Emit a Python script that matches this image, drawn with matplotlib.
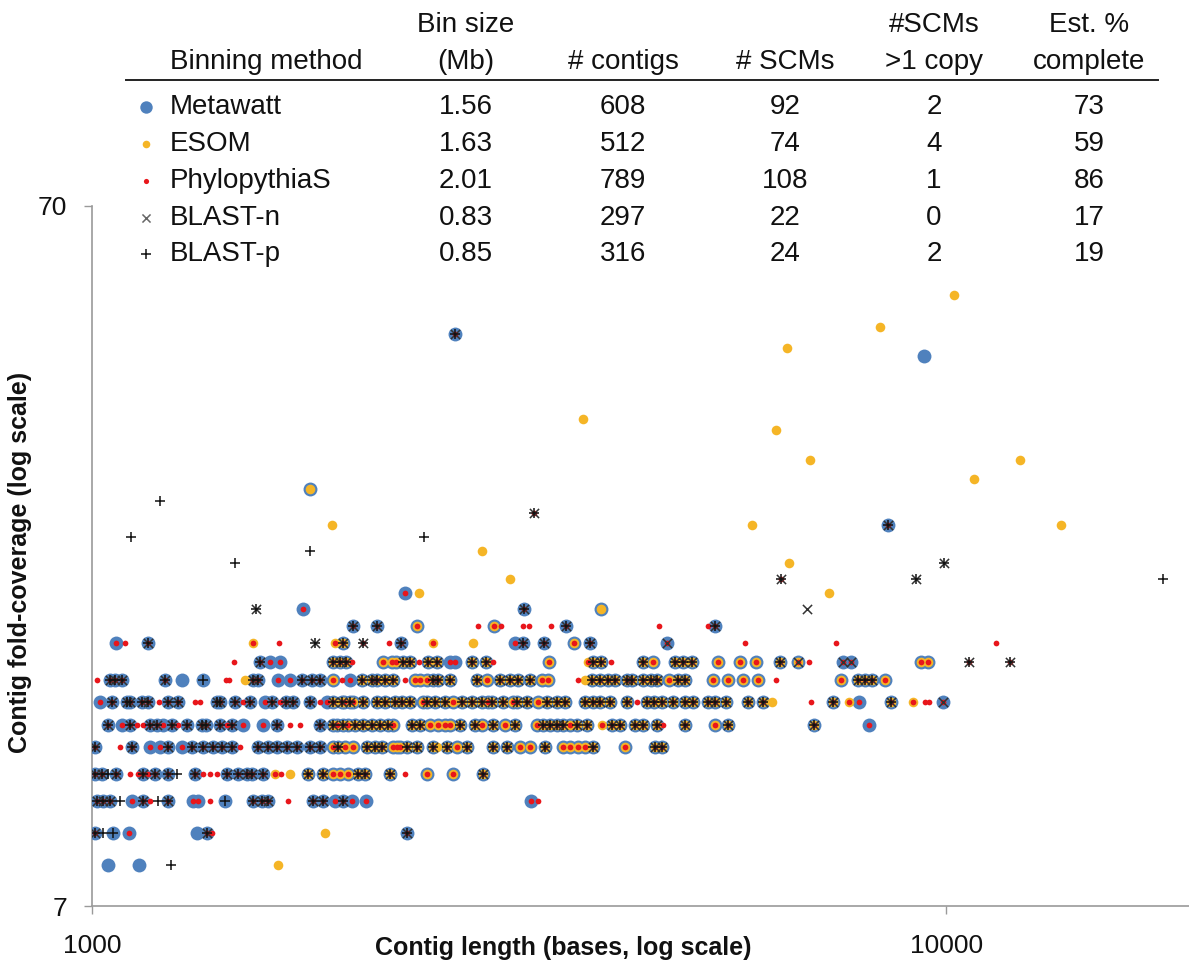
import matplotlib
matplotlib.use("Agg")
import matplotlib.pyplot as plt

plt.rcParams['font.family'] = ['Liberation Sans', 'DejaVu Sans']

# ---------------- summary table ----------------
methods = ["Metawatt", "ESOM", "PhylopythiaS", "BLAST-n", "BLAST-p"]
method_codes = ["M", "E", "P", "N", "B"]
bin_size_mb = ["1.56", "1.63", "2.01", "0.83", "0.85"]
n_contigs = [608, 512, 789, 297, 316]
n_scms = [92, 74, 108, 22, 24]
scms_multi = [2, 4, 1, 0, 2]
est_complete = [73, 59, 86, 17, 19]

# bin membership shorthand: A = all five methods, K = all except ESOM
alias = {"A": "MEPNB", "K": "MPNB"}

# ---------------- contigs, one list per coverage row ----------------
r080_len = [1044, 1135, 1237, 1651]
r080_bin = ["M", "M", "B", "E"]

r089_len = [1008, 1030, 1058, 1105, 1328, 1364, 1382, 1875, 2339]
r089_bin = ["K", "B", "MB", "MP", "M", "K", "P", "E", "K"]

r099_len = [1014, 1030, 1050, 1078, 1114, 1147, 1169, 1195, 1227, 1314, 1331, 1375, 1431,
            1543, 1582, 1607, 1697, 1816, 1865, 1926, 1968, 2017, 2094, 3268, 3330]
r099_bin = ["K", "K", "K", "B", "MP", "K", "P", "B", "K", "MP", "MP", "P", "MB",
            "K", "K", "K", "P", "K", "K", "MP", "K", "MP", "MP", "MP", "P"]

r108_len = [1008, 1027, 1044, 1067, 1108, 1132, 1147, 1163, 1185, 1227, 1258, 1320, 1349,
            1375, 1401, 1439, 1483, 1519, 1539, 1586, 1638, 1665, 1706, 1791, 1865, 1915,
            1952, 1995, 2050, 2088, 2234, 2326, 2468, 2648, 2871]
r108_bin = ["K", "K", "B", "K", "P", "P", "K", "P", "K", "K", "B", "K", "P",
            "P", "P", "K", "K", "K", "K", "K", "EP", "P", "E", "A", "A", "MEP",
            "MEP", "MEP", "A", "A", "A", "P", "MEP", "MEP", "A"]

r118_len = [1008, 1078, 1114, 1169, 1201, 1227, 1275, 1310, 1349, 1386, 1420, 1459, 1491,
            1564, 1607, 1647, 1693, 1739, 1801, 1850, 1915, 1942, 1979, 2022, 2099, 2146,
            2187, 2252, 2277, 2295, 2339, 2403, 2509, 2537, 2606, 2677, 2750, 2950, 3063,
            3172, 3259, 3394, 3563, 3631, 3710, 3781, 3863, 4211, 4566, 4653]
r118_bin = ["K", "P", "K", "MP", "MP", "K", "MP", "K", "K", "K", "K", "K", "P",
            "K", "K", "K", "K", "K", "K", "K", "MEP", "A", "MEP", "MEP", "A", "A",
            "A", "MEP", "MEP", "MEP", "A", "A", "A", "E", "A", "MEP", "A", "A", "A",
            "MEP", "MEP", "A", "MEP", "MEP", "MEP", "MEP", "A", "MEP", "A", "A"]

r127_len = [1044, 1084, 1108, 1129, 1147, 1169, 1191, 1211, 1241, 1261, 1292, 1345, 1360,
            1412, 1439, 1459, 1503, 1586, 1647, 1706, 1753, 1850, 1915, 1936, 1968, 1995,
            2033, 2077, 2128, 2175, 2222, 2252, 2371, 2422, 2489, 2543, 2592, 2627, 2698,
            2810, 2863, 2950, 3047, 3130, 3321, 3375, 3440, 3506, 3563, 3631, 3700, 3801,
            3958, 4066, 4155, 4326, 4420, 4591, 4666, 4951, 5368, 5560, 7011, 8133]
r127_bin = ["K", "MP", "K", "P", "P", "K", "K", "MP", "K", "P", "K", "K", "K",
            "K", "P", "K", "MP", "MP", "K", "P", "P", "K", "A", "MEP", "A", "MEP",
            "A", "A", "A", "A", "A", "MEP", "A", "A", "MEP", "MEP", "MEP", "MEP", "A",
            "A", "MEP", "A", "MEP", "A", "MEP", "A", "A", "A", "A", "MEP", "A", "A",
            "EP", "A", "A", "A", "A", "A", "P", "A", "MEP", "A", "A", "MP"]

r137_len = [1022, 1056, 1099, 1108, 1144, 1163, 1198, 1227, 1261, 1320, 1338, 1401, 1412,
            1471, 1503, 1531, 1594, 1625, 1661, 1688, 1720, 1801, 1850, 1885, 1915, 1963,
            1973, 2006, 2022, 2077, 2157, 2205, 2264, 2307, 2358, 2442, 2468, 2523, 2592,
            2648, 2713, 2787, 2863, 2910, 2942, 3030, 3113, 3147, 3233, 3330, 3412, 3506,
            3582, 3781, 3863, 3937, 4044, 4234, 4350, 4469, 4554, 4653, 4794, 4951, 5059,
            5268, 5368, 5530, 5868, 6110, 6261, 6955, 7380, 7706, 7917, 8630, 9158, 9459,
            9562, 9930]
r137_bin = ["MP", "K", "K", "K", "K", "K", "P", "K", "K", "P", "P", "K", "K",
            "K", "P", "K", "MP", "K", "P", "K", "K", "K", "P", "MP", "A", "A",
            "MEP", "A", "MEP", "A", "A", "A", "A", "A", "A", "MEP", "A", "A", "A",
            "MEP", "A", "A", "A", "MEP", "A", "A", "MEP", "A", "A", "MEP", "A", "A",
            "A", "A", "A", "A", "A", "A", "P", "A", "A", "A", "A", "A", "A",
            "A", "A", "A", "A", "A", "E", "P", "A", "EP", "MP", "A", "EP", "P",
            "P", "MPN"]

r147_len = [1014, 1050, 1064, 1084, 1217, 1275, 1349, 1435, 1447, 1511, 1543, 1564, 1651,
            1706, 1762, 1811, 1850, 1915, 1963, 2006, 2071, 2128, 2157, 2205, 2252, 2326,
            2390, 2422, 2468, 2509, 2543, 2627, 2825, 2902, 3006, 3088, 3155, 3259, 3366,
            3421, 3710, 3781, 3853, 3937, 4023, 4099, 4234, 4291, 4420, 4517, 4591, 4742,
            4859, 4951, 5339, 5560, 5789, 6029, 6328, 7541, 7896, 8046, 8199, 8492]
r147_bin = ["P", "K", "K", "K", "K", "M", "MB", "P", "P", "E", "K", "K", "MP",
            "MP", "K", "K", "K", "MEP", "P", "MP", "A", "A", "A", "A", "A", "P",
            "MEP", "MEP", "MEP", "A", "A", "A", "A", "MEP", "A", "A", "A", "A", "MEP",
            "MEP", "P", "E", "A", "A", "A", "A", "A", "A", "A", "A", "A", "MEP",
            "A", "A", "MEP", "MEP", "MEP", "MEP", "P", "MEP", "A", "A", "A", "MEP"]

r156_len = [1467, 1573, 1616, 1661, 1915, 1952, 1984, 2017, 2193, 2246, 2270, 2314, 2358,
            2416, 2475, 2537, 2627, 2663, 2787, 2894, 2950, 3430, 3811, 3863, 3948, 4055,
            4420, 4542, 4820, 4925, 5045, 5411, 5743, 5996, 6397, 6715, 6918, 7582, 7748,
            9357, 9535, 10650, 11880]
r156_bin = ["P", "K", "MP", "MP", "A", "A", "A", "P", "MEP", "MEP", "MEP", "A", "A",
            "P", "A", "A", "MP", "MP", "A", "A", "P", "MEP", "EP", "A", "A", "P",
            "A", "MEP", "A", "A", "A", "MEP", "MEP", "MEP", "A", "MEPN", "P", "MPN", "MPN",
            "MEP", "MEP", "PNB", "PNB"]

r166_len = [1067, 1093, 1163, 1543, 1656, 1826, 1926, 1968, 2077, 2228, 2301, 2509, 2794,
            3130, 3198, 3384, 3670, 3832, 4716, 5821, 7440, 11440]
r166_bin = ["MP", "P", "K", "EP", "P", "NB", "EP", "A", "PNB", "P", "K", "EP", "E",
            "MP", "K", "K", "MEP", "K", "MPN", "P", "P", "P"]

r176_len = [2022, 2157, 2403, 2833, 2958, 3014, 3198, 3250, 3449, 3592, 4616, 5268, 5368]
r176_bin = ["K", "K", "MEP", "P", "MEP", "P", "P", "P", "P", "K", "P", "P", "K"]

r186_len = [1556, 1767, 3206, 3948, 6881]
r186_bin = ["NB", "MP", "K", "ME", "N"]

r196_len = [2326, 2416, 7301]
r196_bin = ["MP", "E", "E"]

# coverage value of each row
row_cov = [8.0, 8.9, 9.9, 10.8, 11.8, 12.7, 13.7, 14.7, 15.6, 16.6, 17.6, 18.6, 19.6]
row_len = [r080_len, r089_len, r099_len, r108_len, r118_len, r127_len, r137_len,
           r147_len, r156_len, r166_len, r176_len, r186_len, r196_len]
row_bin = [r080_bin, r089_bin, r099_bin, r108_bin, r118_bin, r127_bin, r137_bin,
           r147_bin, r156_bin, r166_bin, r176_bin, r186_bin, r196_bin]

# scattered high-coverage contigs
out_len = [10220, 8370, 6520, 9410, 2660, 3760, 6330, 6920, 12200, 10770, 1800, 1200,
           3290, 1910, 5930, 8540, 13640, 1110, 2450, 1800, 2860, 1470, 6550, 9950,
           3090, 6400, 9210, 17950]
out_cov = [52.2, 47.0, 43.9, 42.7, 45.9, 34.7, 33.5, 30.4, 30.4, 28.5, 27.6, 26.5,
           25.5, 24.5, 24.5, 24.5, 24.5, 23.6, 23.6, 22.5, 22.5, 21.6, 21.6, 21.6,
           20.5, 20.5, 20.5, 20.5]
out_bin = ["E", "E", "E", "M", "K", "E", "E", "E", "E", "E", "ME", "B",
           "PNB", "E", "E", "K", "E", "B", "B", "B", "E", "B", "E", "NB",
           "E", "PNB", "NB", "B"]

# ---------------- assemble per-method series ----------------
all_len, all_cov, all_bin = [], [], []
for cov, lens, bins in zip(row_cov, row_len, row_bin):
    for L, b in zip(lens, bins):
        all_len.append(L); all_cov.append(cov); all_bin.append(alias.get(b, b))
for L, c, b in zip(out_len, out_cov, out_bin):
    all_len.append(L); all_cov.append(c); all_bin.append(alias.get(b, b))

series = {}
for code in method_codes:
    xs = [L for L, b in zip(all_len, all_bin) if code in b]
    ys = [c for c, b in zip(all_cov, all_bin) if code in b]
    series[code] = (xs, ys)

styles = {
    "M": dict(marker="o", s=100, color="#4F81BD", linewidths=0),
    "E": dict(marker="o", s=48, color="#F5B526", linewidths=0),
    "P": dict(marker="o", s=17, color="#E8161B", linewidths=0),
    "N": dict(marker="x", s=44, color="#333333", linewidths=1.1),
    "B": dict(marker="+", s=60, color="#111111", linewidths=1.1),
}

# ---------------- figure ----------------
W, H = 1189, 972
fig = plt.figure(figsize=(W / 100, H / 100), dpi=100)
ax = fig.add_axes([92 / W, 1 - 906 / H, (W - 92) / W, 700 / H])

for code in method_codes:
    xs, ys = series[code]
    ax.scatter(xs, ys, zorder=3, **styles[code])

ax.set_xscale("log")
ax.set_yscale("log")
ax.set_xlim(1000, 19250)
ax.set_ylim(7, 70)
ax.set_xticks([1000, 10000])
ax.set_xticklabels(["1000", "10000"])
ax.set_yticks([7, 70])
ax.set_yticklabels(["7", "70"])
ax.minorticks_off()
for side in ("top", "right"):
    ax.spines[side].set_visible(False)
for side in ("left", "bottom"):
    ax.spines[side].set_color("#9A9A9A")
    ax.spines[side].set_linewidth(1.2)
ax.tick_params(axis="both", which="major", direction="out", length=6, width=1.0,
               color="#9A9A9A", labelsize=19, labelcolor="#111111")
ax.tick_params(axis="x", pad=14)
ax.tick_params(axis="y", pad=12)
ax.set_facecolor("none")

fig.text(563 / W, 1 - 948 / H, "Contig length (bases, log scale)", ha="center", va="center",
         fontsize=18, fontweight="bold", color="#111111")
fig.text(20 / W, 1 - 562 / H, "Contig fold-coverage (log scale)", ha="center", va="center",
         rotation=90, fontsize=18, fontweight="bold", color="#111111")

# ---------------- table overlay ----------------
tax = fig.add_axes([0, 0, 1, 1])
tax.set_xlim(0, W)
tax.set_ylim(H, 0)
tax.axis("off")
tax.patch.set_alpha(0)

fs = 20
col_x = [466, 623, 785, 934, 1089]
head1 = ["Bin size", "", "", "#SCMs", "Est. %"]
head2 = ["(Mb)", "# contigs", "# SCMs", ">1 copy", "complete"]
tax.text(170, 62, "Binning method", ha="left", va="center", fontsize=fs, color="#111111")
for cx, h1, h2 in zip(col_x, head1, head2):
    if h1:
        tax.text(cx, 25, h1, ha="center", va="center", fontsize=fs, color="#111111")
    tax.text(cx, 62, h2, ha="center", va="center", fontsize=fs, color="#111111")
tax.plot([126, 1158], [80, 80], color="#222222", lw=1.4)

row_y = [107, 144, 181, 218, 254]
legend_sizes = {"M": 80, "E": 30, "P": 14, "N": 34, "B": 44}
for i, code in enumerate(method_codes):
    y = row_y[i]
    st = dict(styles[code])
    st["s"] = legend_sizes[code]
    if code == "N":
        st["color"] = "#666666"
    tax.scatter([146], [y], **st)
    tax.text(170, y, methods[i], ha="left", va="center", fontsize=fs, color="#111111")
    vals = [bin_size_mb[i], str(n_contigs[i]), str(n_scms[i]), str(scms_multi[i]),
            str(est_complete[i])]
    for cx, v in zip(col_x, vals):
        tax.text(cx, y, v, ha="center", va="center", fontsize=fs, color="#111111")

fig.savefig("out.png", dpi=100, facecolor="white")
